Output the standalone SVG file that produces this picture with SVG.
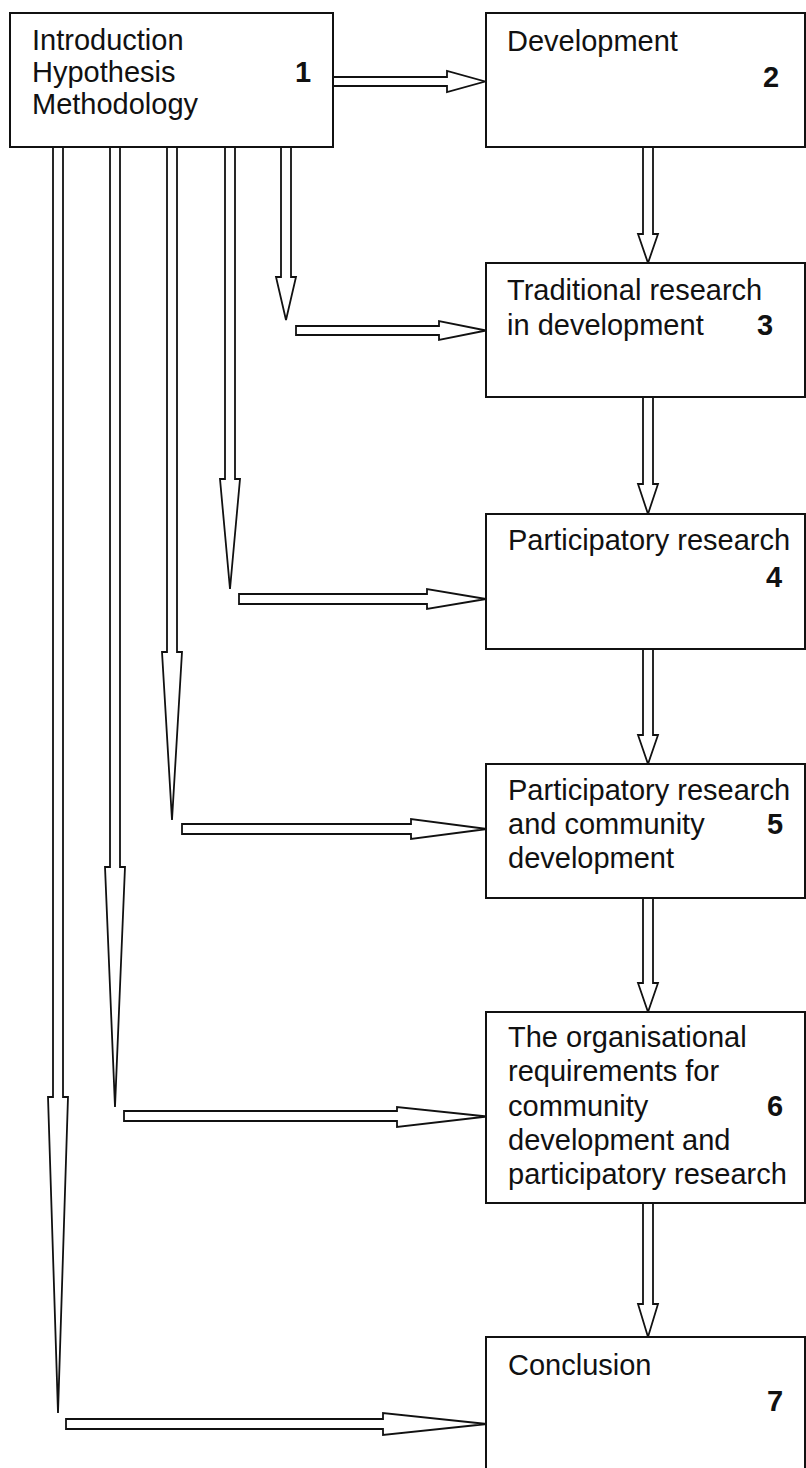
<svg xmlns="http://www.w3.org/2000/svg" width="806" height="1468" viewBox="0 0 806 1468">
<style>
.box{fill:#fff;stroke:#111;stroke-width:2}
.arr{fill:#fff;stroke:#111;stroke-width:1.8;stroke-linejoin:miter}
.t{font-family:"Liberation Sans",Arial,sans-serif;font-size:29px;fill:#111}
.n{font-family:"Liberation Sans",Arial,sans-serif;font-size:29px;font-weight:bold;fill:#111}
</style>
<rect width="806" height="1468" fill="#fff"/>
<g id="connectors">
<!-- long vertical arrows from box 1 -->
<polygon class="arr" points="281,147 291,147 291,277 296,277 286,320 276,277 281,277"/>
<polygon class="arr" points="225,147 235,147 235,479 240,479 230,589 220,479 225,479"/>
<polygon class="arr" points="167,147 177,147 177,652 182,652 172,820 162,652 167,652"/>
<polygon class="arr" points="110,147 120,147 120,867 125,867 115,1107 105,867 110,867"/>
<polygon class="arr" points="53,147 63,147 63,1097 68,1097 58,1413 48,1097 53,1097"/>
<!-- horizontal arrows -->
<polygon class="arr" points="333,77 447,77 447,71 485,81.5 447,92 447,86 333,86"/>
<polygon class="arr" points="296,326 439,326 439,321 486,330.5 439,340 439,335 296,335"/>
<polygon class="arr" points="239,594 427,594 427,589 486,599 427,609 427,604 239,604"/>
<polygon class="arr" points="182,824 411,824 411,819 487,829 411,839 411,834 182,834"/>
<polygon class="arr" points="124,1111 397,1111 397,1107 487,1116.5 397,1127 397,1121 124,1121"/>
<polygon class="arr" points="66,1419 383,1419 383,1413 487,1424 383,1435 383,1429 66,1429"/>
<!-- vertical arrows between right boxes -->
<polygon class="arr" points="643,147 653,147 653,234 658,234 648,263 638,234 643,234"/>
<polygon class="arr" points="643,397 653,397 653,484 658,484 648,514 638,484 643,484"/>
<polygon class="arr" points="643,649 653,649 653,735 658,735 648,764 638,735 643,735"/>
<polygon class="arr" points="643,898 653,898 653,983 658,983 648,1012 638,983 643,983"/>
<polygon class="arr" points="643,1203 653,1203 653,1304 658,1304 648,1337 638,1304 643,1304"/>
</g>
<g id="node1">
<rect class="box" x="10" y="13" width="323" height="134"/>
<text class="t" x="32" y="50">Introduction</text>
<text class="t" x="32" y="82">Hypothesis</text>
<text class="t" x="32" y="114">Methodology</text>
<text class="n" x="295" y="82">1</text>
</g>
<g id="node2">
<rect class="box" x="486" y="13" width="319" height="134"/>
<text class="t" x="507" y="51">Development</text>
<text class="n" x="763" y="87">2</text>
</g>
<g id="node3">
<rect class="box" x="486" y="263" width="319" height="134"/>
<text class="t" x="507" y="300">Traditional research</text>
<text class="t" x="507" y="335">in development</text>
<text class="n" x="757" y="335">3</text>
</g>
<g id="node4">
<rect class="box" x="486" y="514" width="319" height="135"/>
<text class="t" x="508" y="550">Participatory research</text>
<text class="n" x="766" y="587">4</text>
</g>
<g id="node5">
<rect class="box" x="486" y="764" width="319" height="134"/>
<text class="t" x="508" y="800">Participatory research</text>
<text class="t" x="508" y="834">and community</text>
<text class="t" x="508" y="868">development</text>
<text class="n" x="767" y="834">5</text>
</g>
<g id="node6">
<rect class="box" x="486" y="1012" width="319" height="191"/>
<text class="t" x="508" y="1047">The organisational</text>
<text class="t" x="508" y="1081">requirements for</text>
<text class="t" x="508" y="1116">community</text>
<text class="t" x="508" y="1150">development and</text>
<text class="t" x="508" y="1184">participatory research</text>
<text class="n" x="767" y="1116">6</text>
</g>
<g id="node7">
<rect class="box" x="486" y="1337" width="319" height="140"/>
<text class="t" x="508" y="1375">Conclusion</text>
<text class="n" x="767" y="1411">7</text>
</g>
</svg>
